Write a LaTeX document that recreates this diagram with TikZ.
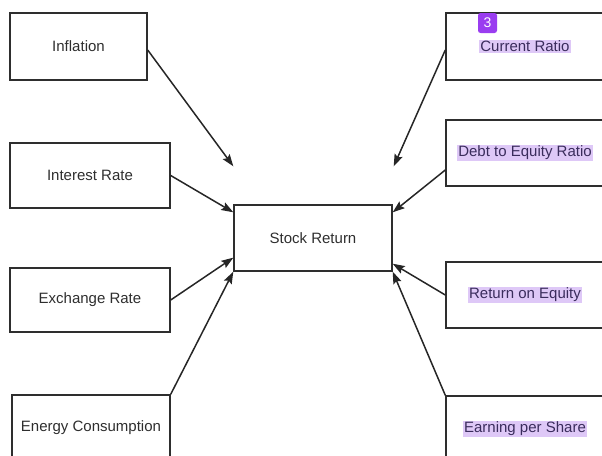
\documentclass[tikz,border=0pt]{standalone}
\usepackage{fontspec}
\setmainfont{Liberation Sans}
\usetikzlibrary{arrows.meta}
\definecolor{txt}{HTML}{2E2E2E}
\definecolor{hl}{HTML}{DEC8F7}
\definecolor{hltxt}{HTML}{3A2C5C}
\definecolor{badge}{HTML}{9A3DF0}
\newcommand{\hlt}[1]{{\setlength{\fboxsep}{1.2pt}\colorbox{hl}{\color{hltxt}#1}}}
\begin{document}
\begin{tikzpicture}[x=1pt,y=-1pt,
  box/.style={draw=txt,line width=1.4pt,rectangle,inner sep=0pt,text=txt,
    font=\fontsize{15}{18}\selectfont,minimum height=66pt},
  conn/.style={draw=black!85,line width=1.5pt,-{Stealth[length=12pt,width=8.5pt,inset=2pt]}}]
\useasboundingbox (0,0) rectangle (602,455);
\begin{scope}
\clip (0,0) rectangle (602,455);
\node[box,minimum width=137pt,minimum height=67pt] (infl) at (78.5,46.5) {\raisebox{1.5pt}{Inflation}};
\node[box,minimum width=160pt,minimum height=65pt] (int) at (90,175.5) {Interest Rate};
\node[box,minimum width=160pt,minimum height=64pt] (exc) at (90,300) {Exchange Rate};
\node[box,minimum width=158pt,minimum height=65pt] (en) at (91,427.5) {Energy Consumption};
\node[box,minimum width=158pt,minimum height=66pt] (sr) at (313,238) {Stock Return};
\node[box,minimum width=158pt,minimum height=67pt] (cur) at (525,46.5) {\raisebox{1.5pt}{\hlt{Current Ratio}}};
\node[box,minimum width=158pt,minimum height=66pt] (debt) at (525,153) {\hlt{Debt to Equity Ratio}};
\node[box,minimum width=158pt,minimum height=66pt] (roe) at (525,295) {\hlt{Return on Equity}};
\node[box,minimum width=158pt,minimum height=66pt] (eps) at (525,429) {\raisebox{1.5pt}{\hlt{Earning per Share}}};
\node[fill=badge,rounded corners=2.5pt,minimum width=19pt,minimum height=20pt,inner sep=0pt,
  text=white,font=\fontsize{14}{16}\selectfont] (bdg) at (487.5,23) {3};
\end{scope}
\draw[conn] ([yshift=-3.5pt]infl.east) -- ([yshift=38pt]sr.north west);
\draw[conn] (int.east) -- ([yshift=-8pt]sr.north west);
\draw[conn] (exc.east) -- ([yshift=14pt]sr.south west);
\draw[conn] (en.north east) -- (sr.south west);
\draw[conn] ([yshift=-3.5pt]cur.west) -- ([yshift=38pt,xshift=1pt]sr.north east);
\draw[conn] ([yshift=-17pt]debt.west) -- ([yshift=-8pt]sr.north east);
\draw[conn] (roe.west) -- ([yshift=8pt]sr.south east);
\draw[conn] (eps.north west) -- (sr.south east);
\end{tikzpicture}
\end{document}
